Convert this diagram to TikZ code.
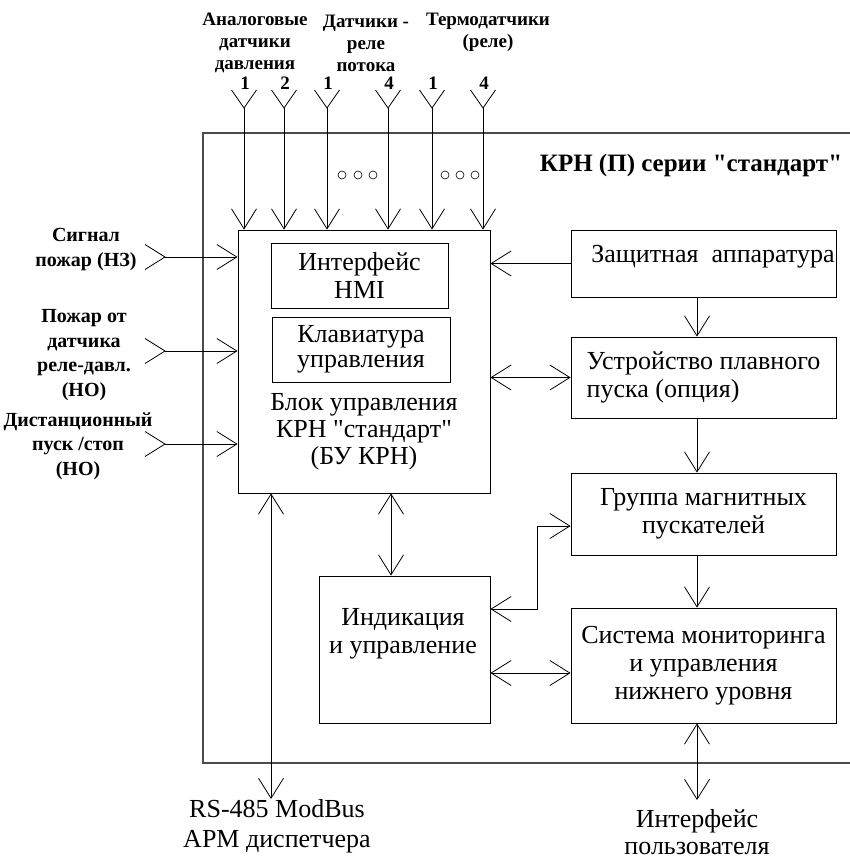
\documentclass[tikz,border=0pt]{standalone}
\usepackage{fontspec}
\setmainfont{Liberation Serif}
\usetikzlibrary{arrows.meta,positioning}

\begin{document}
\begin{tikzpicture}[x=1pt, y=-1pt, line width=0.8pt,
    blok/.style={draw, inner sep=0pt},
    txt/.style={font=\fontsize{26}{28}\selectfont, align=center, inner sep=0pt},
    btxt/.style={font=\fontsize{19}{22}\selectfont\bfseries, align=center, inner sep=0pt},
    ltxt/.style={btxt, font=\fontsize{20}{24.5}\selectfont\bfseries},
    arr/.style={-{Straight Barb[length=20pt,width=25pt]}},
    darr/.style={{Straight Barb[length=20pt,width=25pt]}-{Straight Barb[length=20pt,width=25pt]}}]
    \useasboundingbox (0,0) rectangle (850,859);
    \draw[black!70, line width=1.2pt] (850,133) -- (203,133) -- (203,763) -- (850,763);
    \node[btxt, font=\fontsize{25}{28}\selectfont\bfseries] (ttl) at (691,165) {КРН (П) серии \textquotedbl стандарт\textquotedbl};
    % blocks
    \node[blok, minimum width=252, minimum height=263] (bu) at (364,361.5) {};
    \node[blok, txt, minimum width=177, minimum height=65] (hmi) at (359.5,275.5) {Интерфейс\\HMI};
    \node[blok, txt, font=\fontsize{26}{25.5}\selectfont, minimum width=178, minimum height=65] (klav) at (361,349.5) {Клавиатура\\управления};
    \node[txt, font=\fontsize{26}{27}\selectfont] (butxt) at (364,431.5) {Блок управления\\КРН \textquotedbl стандарт\textquotedbl\\(БУ КРН)};
    \node[blok, minimum width=265, minimum height=67] (zas) at (703.5,263.5) {};
    \node[txt] (zastxt) at (713,257) {Защитная\enspace аппаратура};
    \node[blok, txt, align=left, minimum width=265, minimum height=81] (ust) at (703.5,377.5) {Устройство плавного\\пуска (опция)};
    \node[blok, txt, minimum width=265, minimum height=82] (grp) at (703.5,514) {Группа магнитных\\пускателей};
    \node[blok, txt, minimum width=265, minimum height=115] (sys) at (703.5,665.5) {Система мониторинга\\и управления\\нижнего уровня};
    \node[blok, minimum width=171, minimum height=147] (ind) at (404.5,649.5) {};
    \node[txt] (indtxt) at (403,634) {Индикация\\и управление};
    % inputs
    \node[btxt] (an) at (255,43) {Аналоговые\\датчики\\давления};
    \node[btxt] (pot) at (366,43) {Датчики -\\реле\\потока};
    \node[btxt] (trm) at (488,32.5) {Термодатчики\\(реле)};
    \foreach \i/\x/\name in {1/244/1,2/284/2,3/327/1,4/388/4,5/432/1,6/483/4}{
        \coordinate (in\i) at (\x,108);
        \draw ([shift={(-12.5,-18)}]in\i) -- (in\i) -- ++(12.5,-18);
        \node[btxt] (n\i) at (\x+1,83) {\name};
        \draw[arr] (in\i) -- (in\i |- bu.north);}
    \foreach \x in {342,358,373,445,460,475}{\draw[line width=0.6pt] (\x,175) circle[radius=4];}
    \node[ltxt] (sig) at (86,249.5) {Сигнал\\пожар (НЗ)};
    \node[ltxt] (pzh) at (84,355) {Пожар от\\датчика\\реле-давл.\\(НО)};
    \node[ltxt] (dst) at (78,446) {Дистанционный\\пуск /стоп\\(НО)};
    \foreach \i/\y in {1/257,2/351,3/444}{
        \coordinate (lf\i) at (165,\y);
        \draw ([shift={(-20,-12.5)}]lf\i) -- (lf\i) -- ++(-20,12.5);
        \draw[arr] (lf\i) -- (lf\i -| bu.west);}
    % links
    \draw[arr] (zas.west) -- (zas.west -| bu.east);
    \draw[arr] ([xshift=-6.5]zas.south) -- ([xshift=-6.5]ust.north);
    \draw[darr] (ust.west) -- (ust.west -| bu.east);
    \draw[arr] ([xshift=-6.5]ust.south) -- ([xshift=-6.5]grp.north);
    \draw[arr] ([xshift=-6.5]grp.south) -- ([xshift=-6.5]sys.north);
    \draw[darr] ([xshift=27]bu.south) -- ([xshift=-13.5]ind.north);
    \draw[darr] ([yshift=-23.5]ind.east) -- ([yshift=-23.5]ind.east -| sys.west);
    \draw[darr] ([yshift=40.5]ind.east) -- ++(47,0) |- ([yshift=-12]grp.west);
    \coordinate (rs) at (271,799);
    \coordinate (usr) at (697,800);
    \draw[darr] ([xshift=-93]bu.south) -- (rs);
    \draw[darr] ([xshift=-6.5]sys.south) -- (usr);
    \node[txt, font=\fontsize{26}{30}\selectfont] (rstxt) at (277,826) {RS-485 ModBus\\АРМ диспетчера};
    \node[txt, font=\fontsize{26}{27}\selectfont] (usrtxt) at (697,832) {Интерфейс\\пользователя};
\end{tikzpicture}
\end{document}
